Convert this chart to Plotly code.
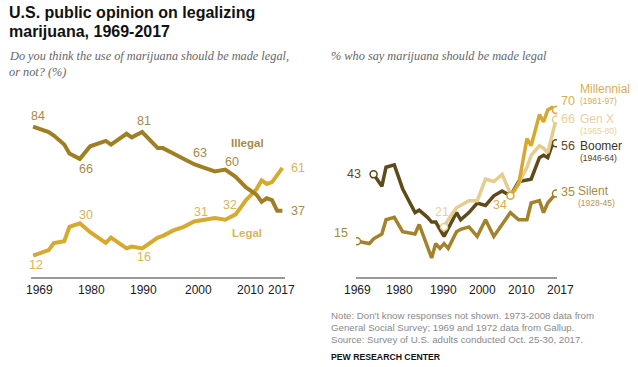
import plotly.graph_objects as go

W, H = 638, 367

# ---------------- data ----------------
years_left = [1969, 1972, 1973, 1975, 1976, 1978, 1980, 1983, 1984, 1987, 1988, 1990,
              1993, 1994, 1996, 1998, 2000, 2002, 2004, 2006, 2008, 2010, 2012, 2013,
              2014, 2015, 2016, 2017]
illegal = [84, 81, 79, 74, 69, 66, 73, 76, 74, 80, 78, 81,
           72, 72, 69, 66, 63, 61, 59, 60, 56, 50, 46, 42,
           44, 43, 37, 37]
legal = [12, 15, 19, 20, 28, 30, 25, 19, 22, 16, 17, 16,
         22, 23, 26, 28, 31, 32, 33, 32, 35, 43, 49, 54,
         52, 53, 57, 61]

silent_years = [1969, 1972, 1973, 1975, 1976, 1978, 1980, 1983, 1984, 1986, 1987, 1988,
                1989, 1990, 1991, 1993, 1994, 1996, 1998, 2000, 2002, 2006, 2008, 2010,
                2011, 2013, 2014, 2015, 2017]
silent = [15, 14, 16, 18, 24, 25, 19, 18, 22, 13, 8, 14,
          12, 14, 12, 19, 20, 21, 17, 24, 17, 27, 24, 24,
          31, 32, 27, 31, 35]

boomer_years = [1973, 1975, 1976, 1978, 1980, 1983, 1984, 1986, 1987, 1988, 1989, 1990,
                1993, 1994, 1996, 1998, 2000, 2002, 2004, 2006, 2007, 2008, 2011, 2013,
                2014, 2015, 2016, 2017]
boomer = [43, 38, 46, 47, 37, 27, 28, 25, 23, 23, 20, 17,
          27, 24, 27, 31, 30, 34, 36, 34, 37, 40, 41, 50,
          51, 50, 55, 56]

genx_years = [1990, 1991, 1993, 1996, 1998, 2000, 2002, 2004, 2006, 2007, 2010, 2011,
              2013, 2014, 2015, 2016, 2017]
genx = [21, 24, 29, 32, 32, 41, 40, 43, 35, 36, 46, 51,
        55, 54, 52, 59, 66]

millennial_years = [2006, 2008, 2010, 2011, 2013, 2014, 2015, 2016, 2017]
millennial = [34, 39, 58, 55, 68, 65, 70, 71, 70]

tick_years = [1969, 1980, 1990, 2000, 2010, 2017]
tick_text = ["1969", "1980", "1990", "2000", "2010", "2017"]

gen_names = ["Millennial", "Gen X", "Boomer", "Silent"]
gen_spans = ["(1981-97)", "(1965-80)", "(1946-64)", "(1928-45)"]

# ---------------- styles ----------------
C_ILLEGAL = "#a07f24"
C_LEGAL = "#d6aa30"
C_SILENT = "#a3822b"
C_BOOMER = "#5f4a1c"
C_GENX = "#e5cd8e"
C_MILL = "#d6a82d"

T_ILLEGAL = "#a38a4c"
T_LEGAL = "#d8b45a"
T_SILENT = "#a58a45"
T_BOOMER = "#5a4a26"
T_GENX = "#e6d29d"
T_MILL = "#d8ae4c"

SANS = "Liberation Sans, Arial, sans-serif"
SERIF = "Liberation Serif, Times New Roman, serif"

fig = go.Figure()

# left chart
fig.add_trace(go.Scatter(x=years_left, y=legal, mode="lines",
                         line=dict(color=C_LEGAL, width=4), xaxis="x", yaxis="y",
                         hoverinfo="skip"))
fig.add_trace(go.Scatter(x=years_left, y=illegal, mode="lines",
                         line=dict(color=C_ILLEGAL, width=4), xaxis="x", yaxis="y",
                         hoverinfo="skip"))

# right chart
series = [
    (silent_years, silent, C_SILENT),
    (boomer_years, boomer, C_BOOMER),
    (genx_years, genx, C_GENX),
    (millennial_years, millennial, C_MILL),
]
for xs, ys, col in series:
    fig.add_trace(go.Scatter(x=xs, y=ys, mode="lines",
                             line=dict(color=col, width=3.5), xaxis="x2", yaxis="y2",
                             hoverinfo="skip"))
for xs, ys, col in series:
    fig.add_trace(go.Scatter(x=[xs[0], xs[-1]], y=[ys[0], ys[-1]], mode="markers",
                             marker=dict(symbol="circle", size=7, color="white",
                                         line=dict(color=col, width=1.5)),
                             xaxis="x2", yaxis="y2", hoverinfo="skip"))

annotations = []


def px_text(text, px, py, size, color, anchor="left", family=SANS):
    annotations.append(dict(text=text, x=px / W, y=1 - py / H, xref="paper", yref="paper",
                            xanchor=anchor, yanchor="middle", showarrow=False,
                            font=dict(family=family, size=size, color=color)))


def val_label(xs, ys, year, xref, yref, color, dx, dy, anchor="center"):
    v = ys[xs.index(year)]
    annotations.append(dict(text=str(v), x=year, y=v, xref=xref, yref=yref,
                            xshift=dx, yshift=dy, xanchor=anchor, yanchor="middle",
                            showarrow=False,
                            font=dict(family=SANS, size=12.5, color=color)))


# tick labels (anchored at their year on each axis, nudged as in the original)
left_tick_shift = [6, 1, 1, 4, 4, -1]
right_tick_shift = [0, -3, -1, -3, -5, 4]
for xref, shifts in (("x", left_tick_shift), ("x2", right_tick_shift)):
    for yr, txt, dx in zip(tick_years, tick_text, shifts):
        annotations.append(dict(text=txt, x=yr, y=1 - 290 / H, xref=xref, yref="paper",
                                xshift=dx, xanchor="center", yanchor="middle",
                                showarrow=False,
                                font=dict(family=SANS, size=12, color="#1a1a1a")))

# left value labels
val_label(years_left, illegal, 1969, "x", "y", T_ILLEGAL, 5, 11)
val_label(years_left, illegal, 1978, "x", "y", T_ILLEGAL, 6, -10)
val_label(years_left, illegal, 1990, "x", "y", T_ILLEGAL, 2, 11)
val_label(years_left, illegal, 2000, "x", "y", T_ILLEGAL, 6, 11)
val_label(years_left, illegal, 2006, "x", "y", T_ILLEGAL, 7, 8)
val_label(years_left, illegal, 2017, "x", "y", T_ILLEGAL, 7, 0, "left")
val_label(years_left, legal, 1969, "x", "y", T_LEGAL, 3, -9)
val_label(years_left, legal, 1978, "x", "y", T_LEGAL, 6, 8)
val_label(years_left, legal, 1990, "x", "y", T_LEGAL, 2, -9)
val_label(years_left, legal, 2000, "x", "y", T_LEGAL, 7, 10)
val_label(years_left, legal, 2006, "x", "y", T_LEGAL, 5, 15)
val_label(years_left, legal, 2017, "x", "y", T_LEGAL, 7, 0, "left")

px_text("<b>Illegal</b>", 247, 143, 11.5, T_ILLEGAL, "center")
px_text("<b>Legal</b>", 247, 233, 11.5, T_LEGAL, "center")

# right value labels
val_label(boomer_years, boomer, boomer_years[0], "x2", "y2", T_BOOMER, -11, 0, "right")
val_label(silent_years, silent, silent_years[0], "x2", "y2", T_SILENT, -7, 8, "right")
val_label(genx_years, genx, genx_years[0], "x2", "y2", T_GENX, -2, 15)
val_label(millennial_years, millennial, millennial_years[0], "x2", "y2", T_MILL, -10, -9)
val_label(millennial_years, millennial, 2017, "x2", "y2", T_MILL, 3, 9, "left")
val_label(genx_years, genx, 2017, "x2", "y2", T_GENX, 3, 0, "left")
val_label(boomer_years, boomer, 2017, "x2", "y2", T_BOOMER, 3, -3, "left")
val_label(silent_years, silent, 2017, "x2", "y2", T_SILENT, 3, 1, "left")

# generation names
name_cols = [T_MILL, T_GENX, "#3d3422", T_SILENT]
span_cols = [T_MILL, T_GENX, "#4b4027", "#b09551"]
name_pos = [(578, 89), (578, 119), (578, 146), (576, 191)]
for nm, sp, nc, sc, (nx, ny) in zip(gen_names, gen_spans, name_cols, span_cols, name_pos):
    px_text(nm, nx, ny, 12, nc)
    px_text(sp, nx, ny + 11.5, 8.5, sc)

# titles
px_text("<b>U.S. public opinion on legalizing</b>", 7, 12, 16, "#111111")
px_text("<b>marijuana, 1969-2017</b>", 7, 32, 16, "#111111")
px_text("<i>Do you think the use of marijuana should be made legal,</i>", 7, 56, 12.3, "#666666",
        family=SERIF)
px_text("<i>or not? (%)</i>", 7, 72, 12.3, "#666666", family=SERIF)
px_text("<i>% who say marijuana should be made legal</i>", 329, 56, 12.3, "#666666",
        family=SERIF)

# notes
px_text("Note: Don't know responses not shown. 1973-2008 data from", 329, 315, 9.7, "#8a8a8a")
px_text("General Social Survey; 1969 and 1972 data from Gallup.", 329, 327, 9.7, "#8a8a8a")
px_text("Source: Survey of U.S. adults conducted Oct. 25-30, 2017.", 329, 339, 9.7, "#8a8a8a")
px_text("<b>PEW RESEARCH CENTER</b>", 329, 357, 8.7, "#111111")

y_dom = [1 - 277 / H, 1 - 98 / H]
axis_common = dict(showgrid=False, zeroline=False, showline=True, linecolor="#9a9a9a",
                   linewidth=1.5, ticks="", showticklabels=False, fixedrange=True)

fig.update_layout(
    width=W, height=H,
    margin=dict(l=0, r=0, t=0, b=0),
    paper_bgcolor="white", plot_bgcolor="white",
    showlegend=False,
    xaxis=dict(domain=[31 / W, 285 / W], range=[1968.6, 2017.5], anchor="y", **axis_common),
    yaxis=dict(domain=y_dom, range=[0, 100], visible=False, fixedrange=True),
    xaxis2=dict(domain=[356 / W, 557 / W], range=[1968.76, 2017.24], anchor="y2",
                **axis_common),
    yaxis2=dict(domain=y_dom, range=[0, 75], visible=False, fixedrange=True),
    annotations=annotations,
)

fig.write_html("out.html", config=dict(displayModeBar=False),
               post_script="document.body.style.margin='0';document.body.style.overflow='hidden';")
